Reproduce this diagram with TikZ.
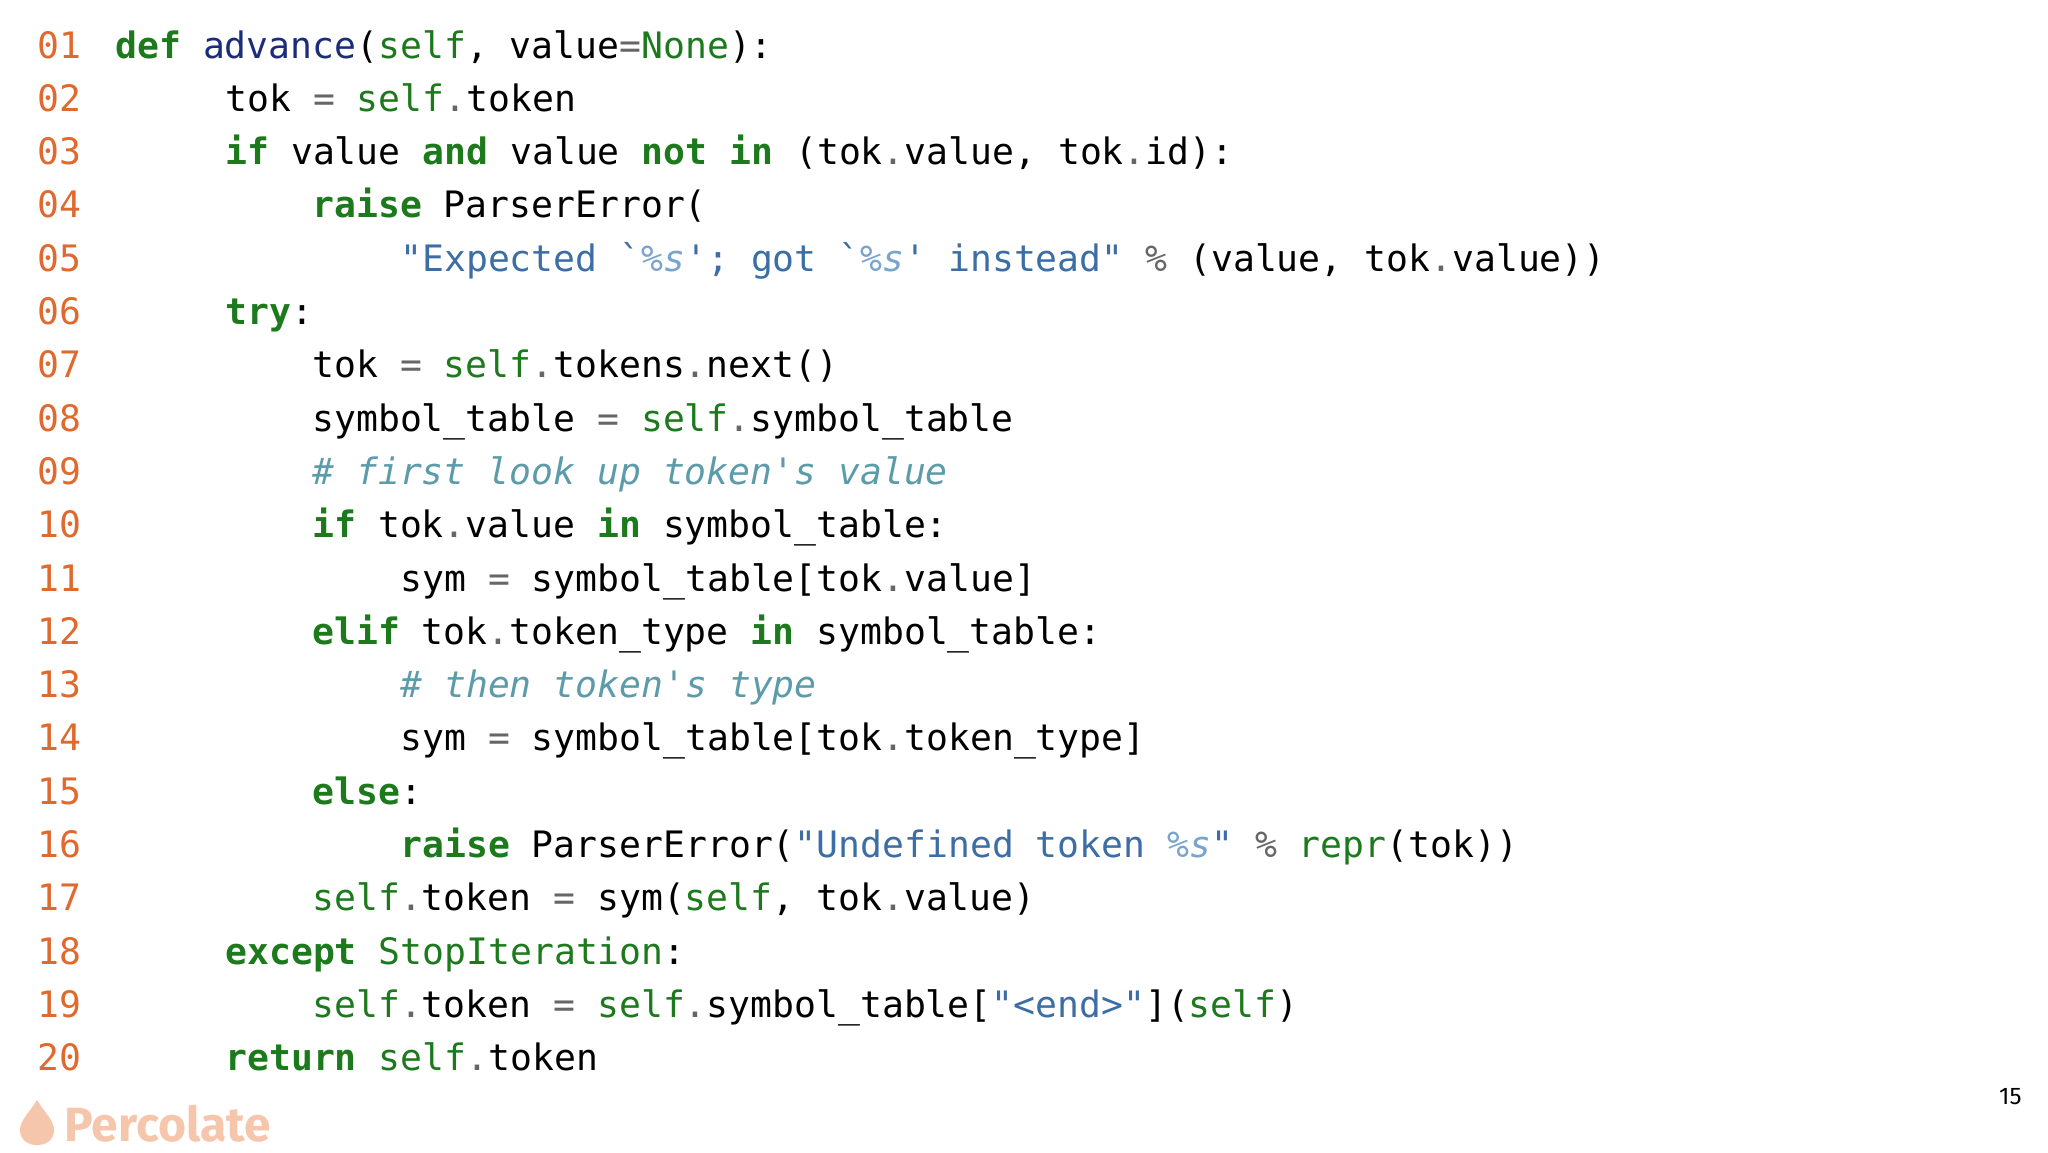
\documentclass[tikz,border=0pt]{standalone}
\usepackage{fontspec}
\newfontfamily\codefont{DejaVu Sans Mono}
\newfontfamily\logofont{Fira Sans}
\definecolor{numcol}{HTML}{E0692E}
\definecolor{kwcol}{HTML}{1C7A1C}
\definecolor{defcol}{HTML}{1B2C78}
\definecolor{strcol}{HTML}{3C6EA5}
\definecolor{fmtcol}{HTML}{7AA4CC}
\definecolor{cmtcol}{HTML}{5C9CAA}
\definecolor{opcol}{HTML}{666666}
\definecolor{logocol}{HTML}{F6C6AC}
\newcommand{\kw}[1]{\textcolor{kwcol}{\bfseries #1}}
\newcommand{\slf}[1]{\textcolor{kwcol}{#1}}
\newcommand{\strg}[1]{\textcolor{strcol}{#1}}
\newcommand{\fmt}[1]{\textcolor{fmtcol}{\itshape #1}}
\newcommand{\cmt}[1]{\textcolor{cmtcol}{\itshape #1}}
\newcommand{\op}[1]{\textcolor{opcol}{#1}}
\newcommand{\bq}{\textasciigrave}
\newcommand{\sq}{\textquotesingle}
\begin{document}
\begin{tikzpicture}[x=0.5pt,y=-0.5pt,
  codeline/.style={anchor=base west,inner sep=0pt,font=\codefont\fontsize{18.2}{20}\selectfont},
  lineno/.style={codeline,text=numcol}]
\useasboundingbox (0,0) rectangle (2048,1152);
% line numbers
\foreach \i/\t in {1/01,2/02,3/03,4/04,5/05,6/06,7/07,8/08,9/09,10/10,11/11,12/12,13/13,14/14,15/15,16/16,17/17,18/18,19/19,20/20}
  \node[lineno] (n\i) at (37,{58+53.3*(\i-1)}) {\t};
% code
\node[codeline] (l1) at (115,58) {\kw{def} \textcolor{defcol}{advance}(\slf{self}, value\op{=}\slf{None}):};
\node[codeline] (l2) at (225,111.3) {tok \op{=} \slf{self}\op{.}token};
\node[codeline] (l3) at (225,164.6) {\kw{if} value \kw{and} value \kw{not} \kw{in} (tok\op{.}value, tok\op{.}id):};
\node[codeline] (l4) at (312,217.9) {\kw{raise} ParserError(};
\node[codeline] (l5) at (400,271.2) {\strg{"Expected \bq\fmt{\%s}\sq; got \bq\fmt{\%s}\sq\ instead"} \op{\%} (value, tok\op{.}value))};
\node[codeline] (l6) at (225,324.5) {\kw{try}:};
\node[codeline] (l7) at (312,377.8) {tok \op{=} \slf{self}\op{.}tokens\op{.}next()};
\node[codeline] (l8) at (312,431.1) {symbol\_table \op{=} \slf{self}\op{.}symbol\_table};
\node[codeline] (l9) at (312,484.4) {\cmt{\# first look up token\sq s value}};
\node[codeline] (l10) at (312,537.7) {\kw{if} tok\op{.}value \kw{in} symbol\_table:};
\node[codeline] (l11) at (400,591) {sym \op{=} symbol\_table[tok\op{.}value]};
\node[codeline] (l12) at (312,644.3) {\kw{elif} tok\op{.}token\_type \kw{in} symbol\_table:};
\node[codeline] (l13) at (400,697.6) {\cmt{\# then token\sq s type}};
\node[codeline] (l14) at (400,750.9) {sym \op{=} symbol\_table[tok\op{.}token\_type]};
\node[codeline] (l15) at (312,804.2) {\kw{else}:};
\node[codeline] (l16) at (400,857.5) {\kw{raise} ParserError(\strg{"Undefined token \fmt{\%s}"} \op{\%} \slf{repr}(tok))};
\node[codeline] (l17) at (312,910.8) {\slf{self}\op{.}token \op{=} sym(\slf{self}, tok\op{.}value)};
\node[codeline] (l18) at (225,964.1) {\kw{except} \slf{StopIteration}:};
\node[codeline] (l19) at (312,1017.4) {\slf{self}\op{.}token \op{=} \slf{self}\op{.}symbol\_table[\strg{"<end>"}](\slf{self})};
\node[codeline] (l20) at (225,1070.7) {\kw{return} \slf{self}\op{.}token};
% page number and logo
\node[anchor=base east,inner sep=0pt,font=\logofont\fontsize{12}{14}\selectfont] (page) at (2022,1104) {15};
\fill[logocol] (37,1100) .. controls (30,1112) and (20,1120) .. (20,1130)
  .. controls (20,1140) and (28,1145) .. (37,1145)
  .. controls (46,1145) and (54,1140) .. (54,1130)
  .. controls (54,1120) and (44,1112) .. (37,1100) -- cycle;
\node[anchor=base west,inner sep=0pt,text=logocol,font=\logofont\bfseries\fontsize{24}{28}\selectfont] (logo) at (64,1141) {Percolate};
\end{tikzpicture}
\end{document}
